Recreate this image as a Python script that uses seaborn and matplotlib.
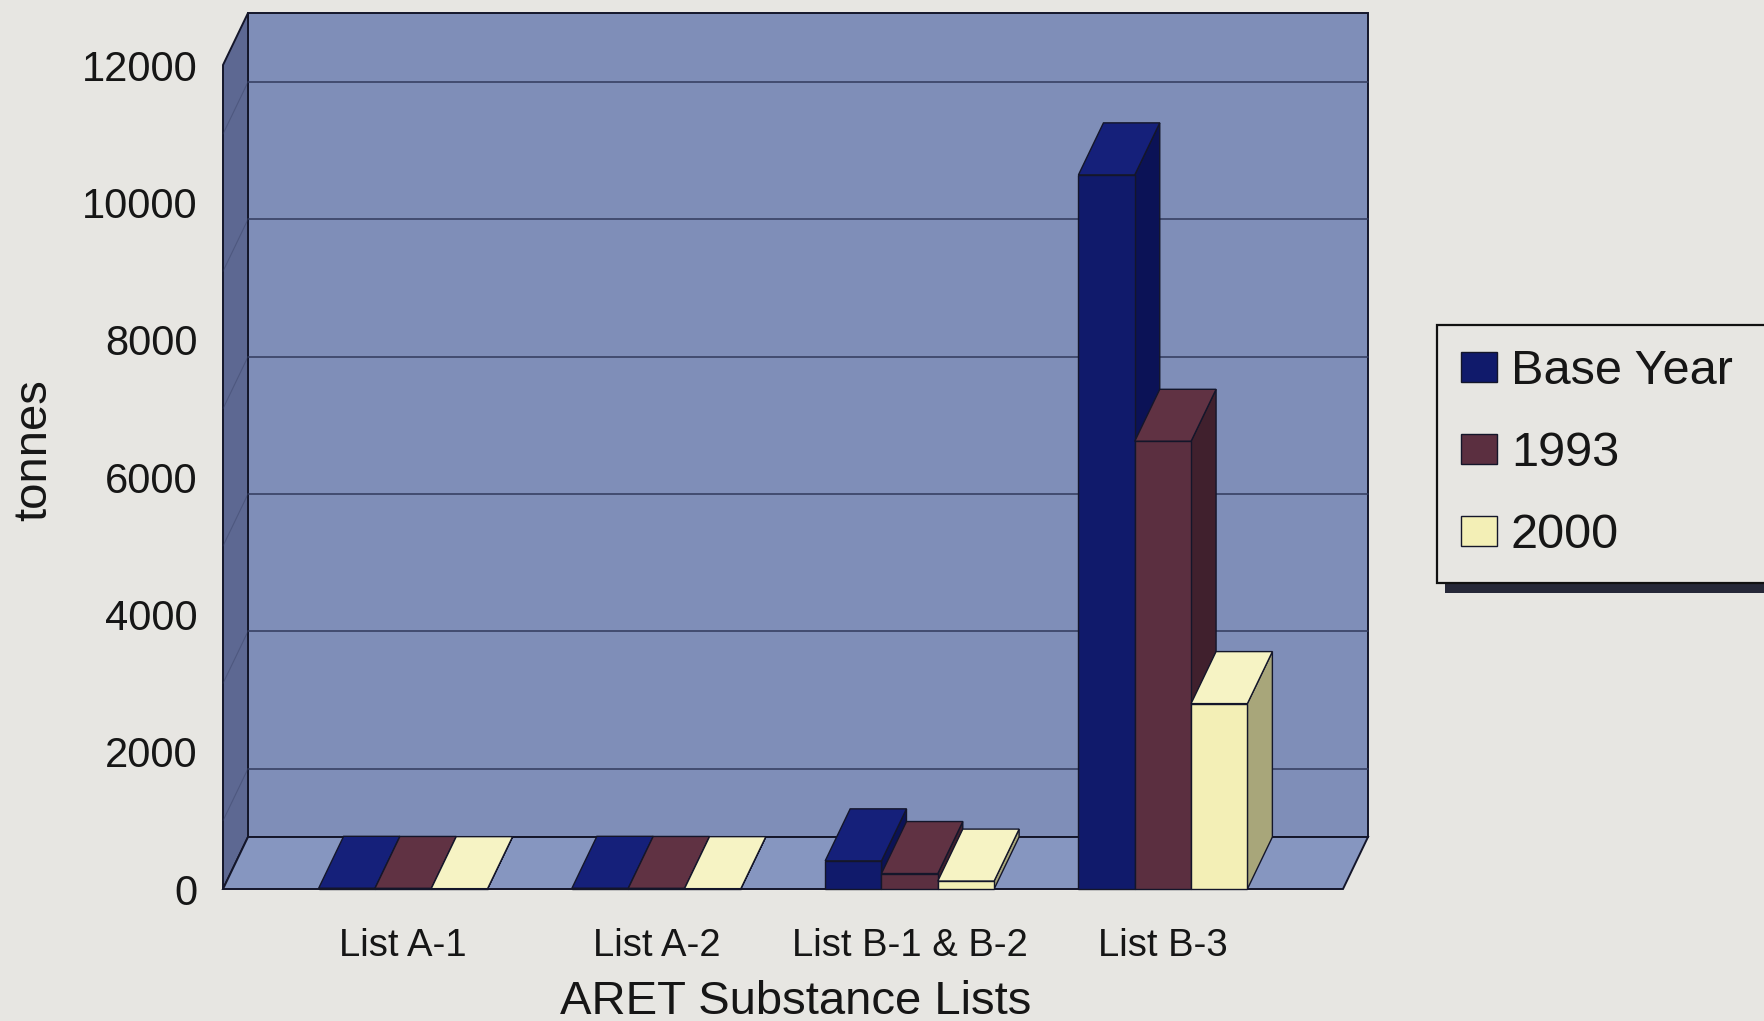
import numpy as np
import pandas as pd
import matplotlib
matplotlib.use("Agg")
import matplotlib.pyplot as plt
from matplotlib.patches import Polygon, Patch, Rectangle
import seaborn as sns

# ARET releases by substance list (tonnes)
categories = ["List A-1", "List A-2", "List B-1 & B-2", "List B-3"]
series = ["Base Year", "1993", "2000"]
base_year = [10, 10, 410, 10400]
year_1993 = [8, 8, 225, 6520]
year_2000 = [5, 5, 115, 2700]
y_ticks = [0, 2000, 4000, 6000, 8000, 10000, 12000]

PAPER = "#e7e6e2"
TEXT = "#161616"
EDGE = "#14162a"
WALL = "#7f8eb8"
LEFT_WALL = "#5d6892"
FLOOR = "#8696c0"
GRID = "#323a5c"

front_colors = {"Base Year": "#101a6b", "1993": "#5b2f40", "2000": "#f3efb6"}
top_colors = {"Base Year": "#15207a", "1993": "#603243", "2000": "#f6f3c4"}
side_colors = {"Base Year": "#0b1256", "1993": "#40202d", "2000": "#a8a67a"}

df = pd.DataFrame({
    "list": categories * len(series),
    "series": np.repeat(series, len(categories)),
    "tonnes": base_year + year_1993 + year_2000,
})

sns.set_theme(style="white")
plt.rcParams["font.family"] = ["Liberation Sans", "DejaVu Sans"]
plt.rcParams["text.color"] = TEXT
plt.rcParams["xtick.color"] = TEXT
plt.rcParams["ytick.color"] = TEXT
plt.rcParams["axes.labelcolor"] = TEXT

W, H = 1765, 1021
fig = plt.figure(figsize=(W / 100, H / 100), dpi=100)
fig.patch.set_facecolor(PAPER)

# front plane of the 3-D box
ax = fig.add_axes([223 / W, 1 - 889 / H, 1120 / W, 824 / H])
ax.set_facecolor("none")

sns.barplot(data=df, x="list", y="tonnes", hue="series", order=categories,
            hue_order=series, palette=front_colors, width=0.667, saturation=1,
            edgecolor=EDGE, linewidth=1.0, legend=False, ax=ax)

X0, X1 = -0.711, 3.711
YMAX = y_ticks[-1]
ax.set_xlim(X0, X1)
ax.set_ylim(0, YMAX)

# depth of the box, given in pixels, turned into data units
inv = ax.transData.inverted()
origin = ax.transData.transform((0, 0))
dx, dy = inv.transform(origin + np.array([25, 52])) - inv.transform(origin)
grid_drop = (inv.transform(origin + np.array([0, 17])) - inv.transform(origin))[1]


def face(pts, fc, z, ec=EDGE, lw=1.0, alpha=1.0):
    ax.add_patch(Polygon(pts, closed=True, facecolor=fc, edgecolor=ec,
                         linewidth=lw, zorder=z, clip_on=False, alpha=alpha))


# walls and floor
face([(X0 + dx, dy), (X1 + dx, dy), (X1 + dx, YMAX + dy), (X0 + dx, YMAX + dy)],
     WALL, 0.5, lw=1.4)
face([(X0, 0), (X0 + dx, dy), (X0 + dx, YMAX + dy), (X0, YMAX)],
     LEFT_WALL, 0.6, lw=1.4)
face([(X0, 0), (X1, 0), (X1 + dx, dy), (X0 + dx, dy)], FLOOR, 0.6, lw=1.4)

# gridlines on the back and side walls
for v in y_ticks[1:]:
    gy = v - grid_drop
    ax.plot([X0 + dx, X1 + dx], [gy, gy], color=GRID, lw=1.1, zorder=0.7,
            clip_on=False)
    ax.plot([X0, X0 + dx], [gy - dy, gy], color=GRID, lw=0.8, alpha=0.35,
            zorder=0.7, clip_on=False)

# extrude each bar: side and top faces, drawn left to right
bars = []
for name, container in zip(series, ax.containers):
    for p in container.patches:
        bars.append((p.get_x(), name, p))
bars.sort(key=lambda b: b[0])
for k, (_, name, p) in enumerate(bars):
    x, w, h = p.get_x(), p.get_width(), p.get_height()
    z = 2 + k * 0.01
    face([(x + w, 0), (x + w + dx, dy), (x + w + dx, h + dy), (x + w, h)],
         side_colors[name], z)
    face([(x, h), (x + w, h), (x + w + dx, h + dy), (x + dx, h + dy)],
         top_colors[name], z + 0.002)
    p.set_zorder(z + 0.004)
    p.set_clip_on(False)

for s in ax.spines.values():
    s.set_visible(False)
ax.set_yticks(y_ticks)
ax.set_yticklabels([str(t) for t in y_ticks])
ax.tick_params(axis="y", length=0, pad=18.5, labelsize=30)
ax.tick_params(axis="x", length=0, pad=28, labelsize=27.5)
ax.grid(False)

ax.set_xlabel("ARET Substance Lists", fontsize=34)
ax.xaxis.set_label_coords(0.5116, -0.111)
ax.set_ylabel("tonnes", fontsize=34)
ax.yaxis.set_label_coords(-0.1486, 0.533)

# legend box runs past the right edge of the page
handles = [Patch(facecolor=front_colors[s], edgecolor=EDGE, linewidth=1.0)
           for s in series]
leg = fig.legend(handles, series, loc="upper left",
                 bbox_to_anchor=(1437 / W, 1 - 325 / H, 345 / W, 0),
                 mode="expand", borderaxespad=0,
                 frameon=True, fancybox=False, edgecolor="#111111",
                 facecolor=PAPER, framealpha=1, fontsize=35,
                 handlelength=0.74, handleheight=0.58, handletextpad=0.28,
                 labelspacing=0.76, borderpad=0.5)
leg.get_frame().set_linewidth(1.6)
leg.set_zorder(5)

# drop shadow under the legend box
fig.canvas.draw()
bb = leg.get_frame().get_window_extent()
to_fig = fig.transFigure.inverted()
(sx0, sy0), (sx1, sy1) = to_fig.transform([(bb.x0 + 8, bb.y0 - 10),
                                           (bb.x1 + 8, bb.y1 - 10)])
fig.add_artist(Rectangle((sx0, sy0), sx1 - sx0, sy1 - sy0,
                         transform=fig.transFigure, facecolor="#262838",
                         edgecolor="none", zorder=4.9))

fig.savefig("out.png", dpi=100, facecolor=fig.get_facecolor())
